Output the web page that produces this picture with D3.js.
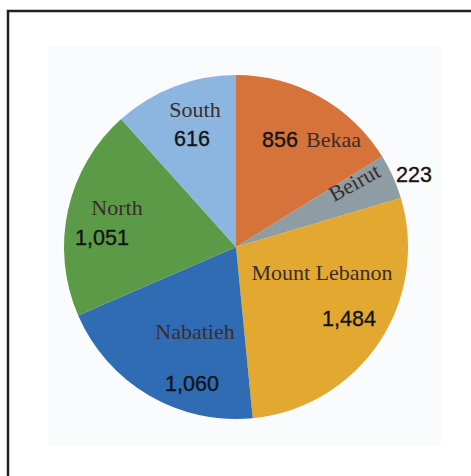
<!DOCTYPE html>
<html>
<head>
<meta charset="utf-8">
<script src="https://cdn.jsdelivr.net/npm/d3@7"></script>
<style>
  html, body { margin: 0; padding: 0; background: #ffffff; }
  svg { display: block; }
</style>
</head>
<body>
<svg id="chart" width="471" height="476"></svg>
<script>
// Regions, clockwise from twelve o'clock
const regions = ["Bekaa", "Beirut", "Mount Lebanon", "Nabatieh", "North", "South"];
const counts = [856, 223, 1484, 1060, 1051, 616];
const sliceColors = ["#d5733a", "#8e9ca4", "#e2a830", "#2f6cb4", "#5b9b47", "#8cb6df"];

// Label placement relative to the pie centre (name and value)
const labelLayout = {
  "Bekaa":         { name: [70, -100, "start"], value: [26, -100, "start"] },
  "Beirut":        { name: [122, -58, "middle", -29], value: [160, -65, "start"] },
  "Mount Lebanon": { name: [86, 33, "middle"], value: [113, 79, "middle"] },
  "Nabatieh":      { name: [-41, 92, "middle"], value: [-44, 144, "middle"] },
  "North":         { name: [-119, -32, "middle"], value: [-134, -2, "middle"] },
  "South":         { name: [-41, -130, "middle"], value: [-44, -101, "middle"] }
};

const svg = d3.select("#chart");
const cx = 236, cy = 247, radius = 172;

// Frame and panel
svg.append("rect")
  .attr("x", 8).attr("y", 11)
  .attr("width", 500).attr("height", 500)
  .attr("fill", "none")
  .attr("stroke", "#222")
  .attr("stroke-width", 2.5);

svg.append("rect")
  .attr("x", 48).attr("y", 46)
  .attr("width", 393).attr("height", 400)
  .attr("fill", "#f9fbfd");

const rows = regions.map((r, i) => ({ region: r, count: counts[i], color: sliceColors[i] }));

const pie = d3.pie()
  .value(d => d.count)
  .sort(null)
  .startAngle(0)
  .endAngle(2 * Math.PI);

const arc = d3.arc().innerRadius(0).outerRadius(radius);

const g = svg.append("g").attr("transform", `translate(${cx},${cy})`);

g.selectAll("path.slice")
  .data(pie(rows))
  .join("path")
  .attr("class", "slice")
  .attr("d", arc)
  .attr("fill", d => d.data.color);

const fmt = d3.format(",");

// Region names
g.selectAll("text.name")
  .data(rows)
  .join("text")
  .attr("class", "name")
  .attr("transform", d => {
    const p = labelLayout[d.region].name;
    return `translate(${p[0]},${p[1]})` + (p[3] ? ` rotate(${p[3]})` : "");
  })
  .attr("text-anchor", d => labelLayout[d.region].name[2])
  .attr("font-family", "'Liberation Serif', 'Times New Roman', serif")
  .attr("font-size", 22)
  .attr("fill", "#3a2d2c")
  .text(d => d.region);

// Counts
g.selectAll("text.value")
  .data(rows)
  .join("text")
  .attr("class", "value")
  .attr("x", d => labelLayout[d.region].value[0])
  .attr("y", d => labelLayout[d.region].value[1])
  .attr("text-anchor", d => labelLayout[d.region].value[2])
  .attr("font-family", "'Liberation Sans', Arial, Helvetica, sans-serif")
  .attr("font-size", 21.5)
  .attr("fill", "#121416")
  .attr("stroke", "#121416")
  .attr("stroke-width", 0.35)
  .text(d => fmt(d.count));
</script>
</body>
</html>
